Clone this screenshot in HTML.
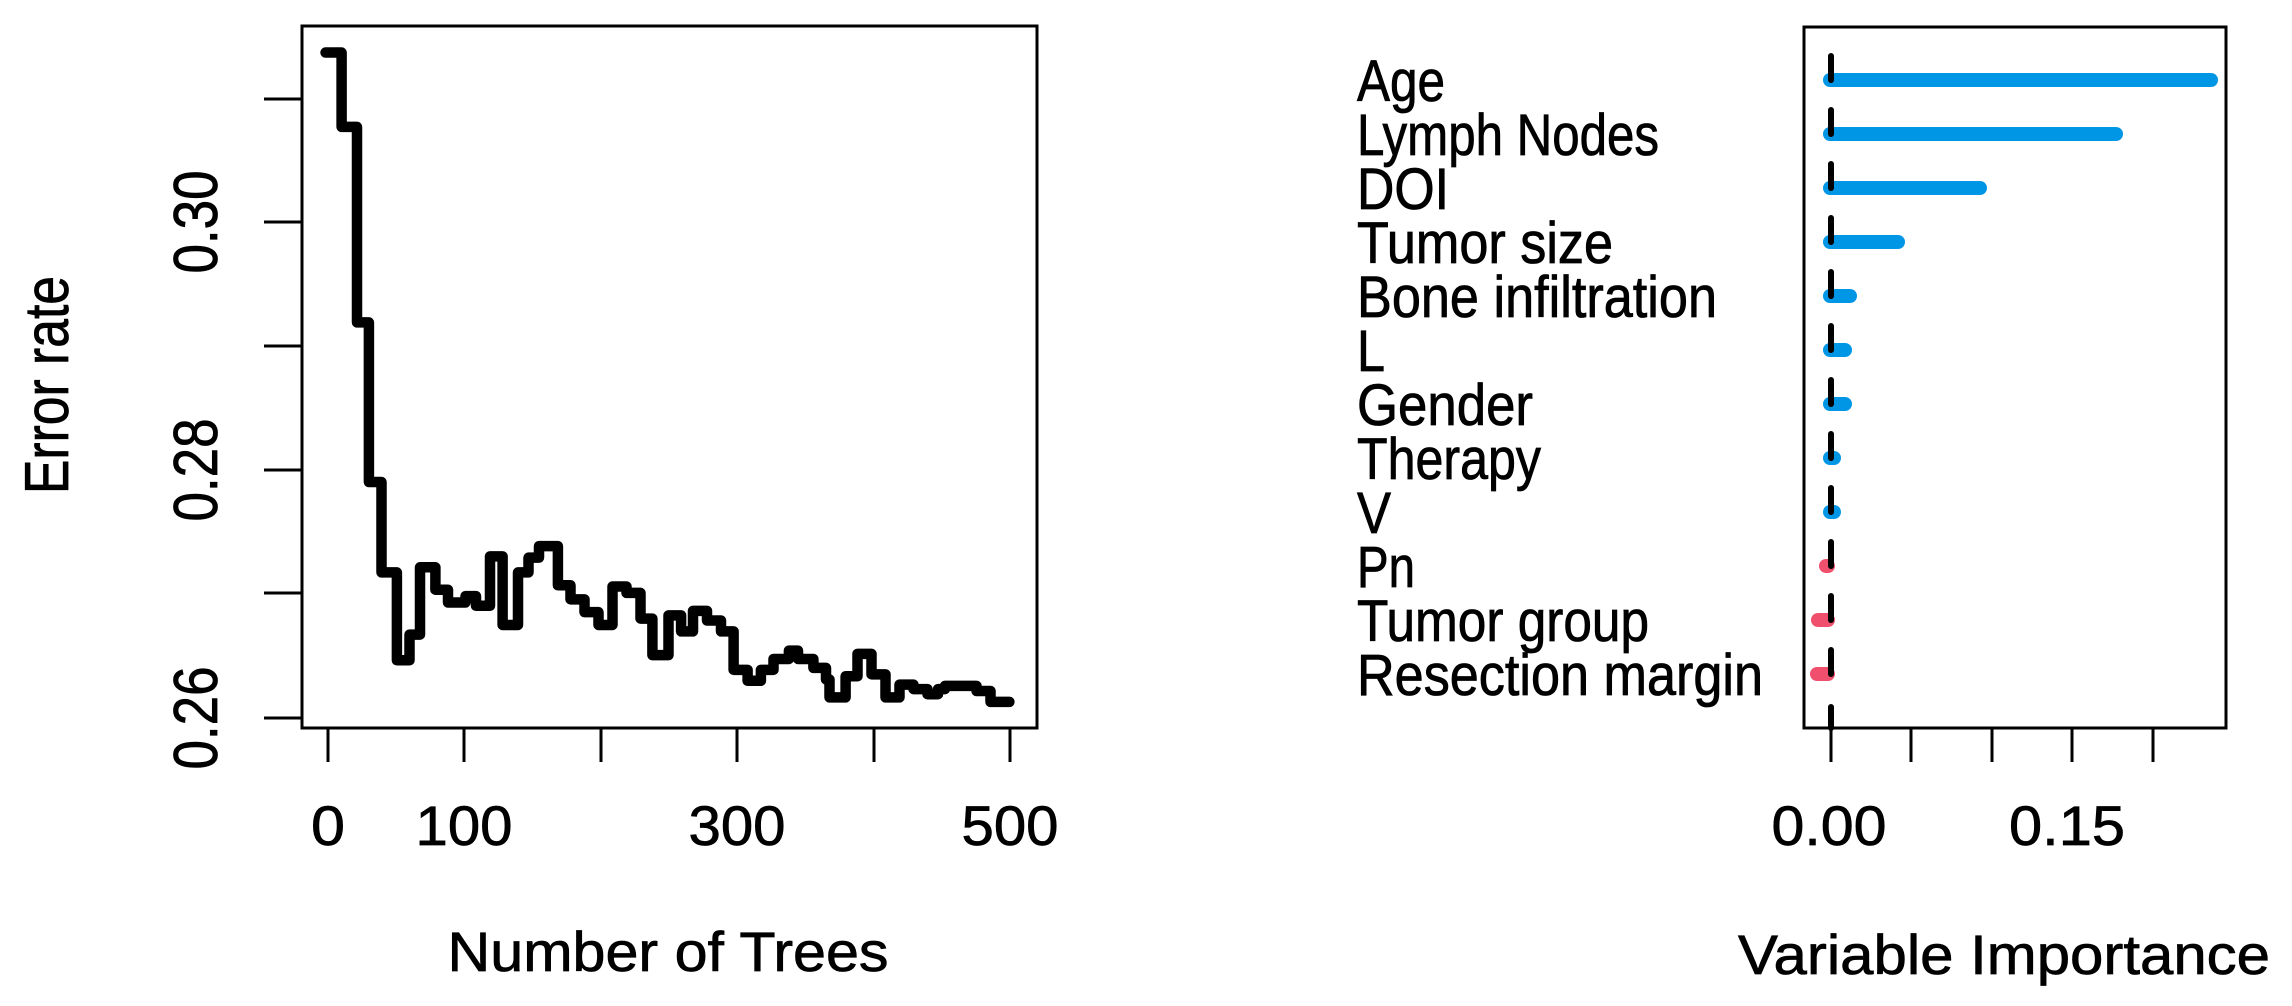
<!DOCTYPE html>
<html><head><meta charset="utf-8"><style>
html,body{margin:0;padding:0;background:#fff;}
svg{display:block;}
text{font-family:"Liberation Sans",Arial,sans-serif;fill:#000;stroke:#000;stroke-width:0.8;}
</style></head><body>
<svg width="2292" height="1006" viewBox="0 0 2292 1006" xmlns="http://www.w3.org/2000/svg">
<rect width="2292" height="1006" fill="#fff"/>
<!-- LEFT PLOT -->
<rect x="302" y="26" width="735" height="702" fill="none" stroke="#000" stroke-width="3"/>
<g stroke="#000" stroke-width="3">
<line x1="264" y1="99" x2="302" y2="99"/><line x1="264" y1="222" x2="302" y2="222"/>
<line x1="264" y1="346" x2="302" y2="346"/><line x1="264" y1="470" x2="302" y2="470"/>
<line x1="264" y1="593" x2="302" y2="593"/><line x1="264" y1="718" x2="302" y2="718"/>
<line x1="328" y1="728" x2="328" y2="762"/><line x1="464" y1="728" x2="464" y2="762"/>
<line x1="601" y1="728" x2="601" y2="762"/><line x1="737" y1="728" x2="737" y2="762"/>
<line x1="874" y1="728" x2="874" y2="762"/><line x1="1010" y1="728" x2="1010" y2="762"/>
</g>
<g transform="scale(0.7,0.641)">
<path vector-effect="non-scaling-stroke" fill="none" stroke="#000" stroke-width="10.5" stroke-linejoin="round" stroke-linecap="round"
d="M465,82 H488 V198 H510 V503 H527 V752 H545 V893 H567 V1030 H585 V990 H600 V885 H622 V920 H640 V940 H665 V930 H680 V945 H700 V868 H718 V975 H740 V893 H755 V870 H770 V852 H797 V913 H815 V935 H835 V955 H855 V975 H875 V915 H895 V925 H915 V965 H932 V1022 H955 V960 H973 V985 H990 V953 H1010 V968 H1030 V985 H1048 V1045 H1068 V1062 H1087 V1045 H1105 V1028 H1127 V1015 H1140 V1028 H1162 V1042 H1180 V1060 H1185 V1088 H1208 V1055 H1225 V1020 H1245 V1052 H1265 V1088 H1285 V1068 H1305 V1075 H1325 V1083 H1340 V1075 H1350 V1070 H1395 V1078 H1415 V1095 H1442"/>
</g>
<g font-size="62">
<text transform="translate(217,718) rotate(-90)" text-anchor="middle" textLength="103" lengthAdjust="spacingAndGlyphs">0.26</text>
<text transform="translate(217,470) rotate(-90)" text-anchor="middle" textLength="103" lengthAdjust="spacingAndGlyphs">0.28</text>
<text transform="translate(217,222) rotate(-90)" text-anchor="middle" textLength="103" lengthAdjust="spacingAndGlyphs">0.30</text>
<text transform="translate(328,845) scale(1,0.9)" text-anchor="middle" textLength="34" lengthAdjust="spacingAndGlyphs">0</text>
<text transform="translate(464,845) scale(1,0.9)" text-anchor="middle" textLength="97" lengthAdjust="spacingAndGlyphs">100</text>
<text transform="translate(737,845) scale(1,0.9)" text-anchor="middle" textLength="97" lengthAdjust="spacingAndGlyphs">300</text>
<text transform="translate(1010,845) scale(1,0.9)" text-anchor="middle" textLength="97" lengthAdjust="spacingAndGlyphs">500</text>
<text transform="translate(68,385) rotate(-90)" text-anchor="middle" textLength="218" lengthAdjust="spacingAndGlyphs">Error rate</text>
<text transform="translate(668,971) scale(1,0.9)" text-anchor="middle" textLength="441" lengthAdjust="spacingAndGlyphs">Number of Trees</text>
</g>
<!-- RIGHT PLOT -->
<rect x="1804" y="27" width="422" height="701" fill="none" stroke="#000" stroke-width="3"/>
<g stroke="#000" stroke-width="3">
<line x1="1831" y1="728" x2="1831" y2="762"/><line x1="1911" y1="728" x2="1911" y2="762"/>
<line x1="1992" y1="728" x2="1992" y2="762"/><line x1="2072" y1="728" x2="2072" y2="762"/>
<line x1="2153" y1="728" x2="2153" y2="762"/>
</g>
<g stroke-width="14" stroke-linecap="round">
<line x1="1830" y1="80" x2="2211" y2="80" stroke="#0096e6"/>
<line x1="1830" y1="134" x2="2116" y2="134" stroke="#0096e6"/>
<line x1="1830" y1="188" x2="1980" y2="188" stroke="#0096e6"/>
<line x1="1830" y1="242" x2="1898" y2="242" stroke="#0096e6"/>
<line x1="1830" y1="296" x2="1850" y2="296" stroke="#0096e6"/>
<line x1="1830" y1="350" x2="1845" y2="350" stroke="#0096e6"/>
<line x1="1830" y1="404" x2="1845" y2="404" stroke="#0096e6"/>
<line x1="1830" y1="458" x2="1834" y2="458" stroke="#0096e6"/>
<line x1="1830" y1="512" x2="1834" y2="512" stroke="#0096e6"/>
<line x1="1826" y1="566" x2="1828" y2="566" stroke="#f0506e"/>
<line x1="1818" y1="620" x2="1828" y2="620" stroke="#f0506e"/>
<line x1="1817" y1="674" x2="1828" y2="674" stroke="#f0506e"/>
</g>
<g stroke="#000" stroke-width="6" stroke-linecap="round">
<line x1="1831" y1="56" x2="1831" y2="80"/><line x1="1831" y1="110" x2="1831" y2="134"/>
<line x1="1831" y1="164" x2="1831" y2="188"/><line x1="1831" y1="218" x2="1831" y2="242"/>
<line x1="1831" y1="272" x2="1831" y2="296"/><line x1="1831" y1="326" x2="1831" y2="350"/>
<line x1="1831" y1="380" x2="1831" y2="404"/><line x1="1831" y1="434" x2="1831" y2="458"/>
<line x1="1831" y1="488" x2="1831" y2="512"/><line x1="1831" y1="542" x2="1831" y2="566"/>
<line x1="1831" y1="596" x2="1831" y2="620"/><line x1="1831" y1="650" x2="1831" y2="674"/>
<line x1="1831" y1="707" x2="1831" y2="728"/>
</g>
<g font-size="58">
<text x="1357" y="101" textLength="88" lengthAdjust="spacingAndGlyphs">Age</text>
<text x="1357" y="155" textLength="302" lengthAdjust="spacingAndGlyphs">Lymph Nodes</text>
<text x="1357" y="209" textLength="92" lengthAdjust="spacingAndGlyphs">DOI</text>
<text x="1357" y="263" textLength="256" lengthAdjust="spacingAndGlyphs">Tumor size</text>
<text x="1357" y="317" textLength="360" lengthAdjust="spacingAndGlyphs">Bone infiltration</text>
<text x="1357" y="371" textLength="28" lengthAdjust="spacingAndGlyphs">L</text>
<text x="1357" y="425" textLength="176" lengthAdjust="spacingAndGlyphs">Gender</text>
<text x="1357" y="479" textLength="184" lengthAdjust="spacingAndGlyphs">Therapy</text>
<text x="1357" y="533" textLength="34" lengthAdjust="spacingAndGlyphs">V</text>
<text x="1357" y="587" textLength="58" lengthAdjust="spacingAndGlyphs">Pn</text>
<text x="1357" y="641" textLength="292" lengthAdjust="spacingAndGlyphs">Tumor group</text>
<text x="1357" y="695" textLength="406" lengthAdjust="spacingAndGlyphs">Resection margin</text>
</g>
<g font-size="62">
<text transform="translate(1829,845) scale(1,0.9)" text-anchor="middle" textLength="115" lengthAdjust="spacingAndGlyphs">0.00</text>
<text transform="translate(2067,845) scale(1,0.9)" text-anchor="middle" textLength="116" lengthAdjust="spacingAndGlyphs">0.15</text>
<text transform="translate(2004,974) scale(1,0.9)" text-anchor="middle" textLength="532" lengthAdjust="spacingAndGlyphs">Variable Importance</text>
</g>
</svg>
</body></html>
